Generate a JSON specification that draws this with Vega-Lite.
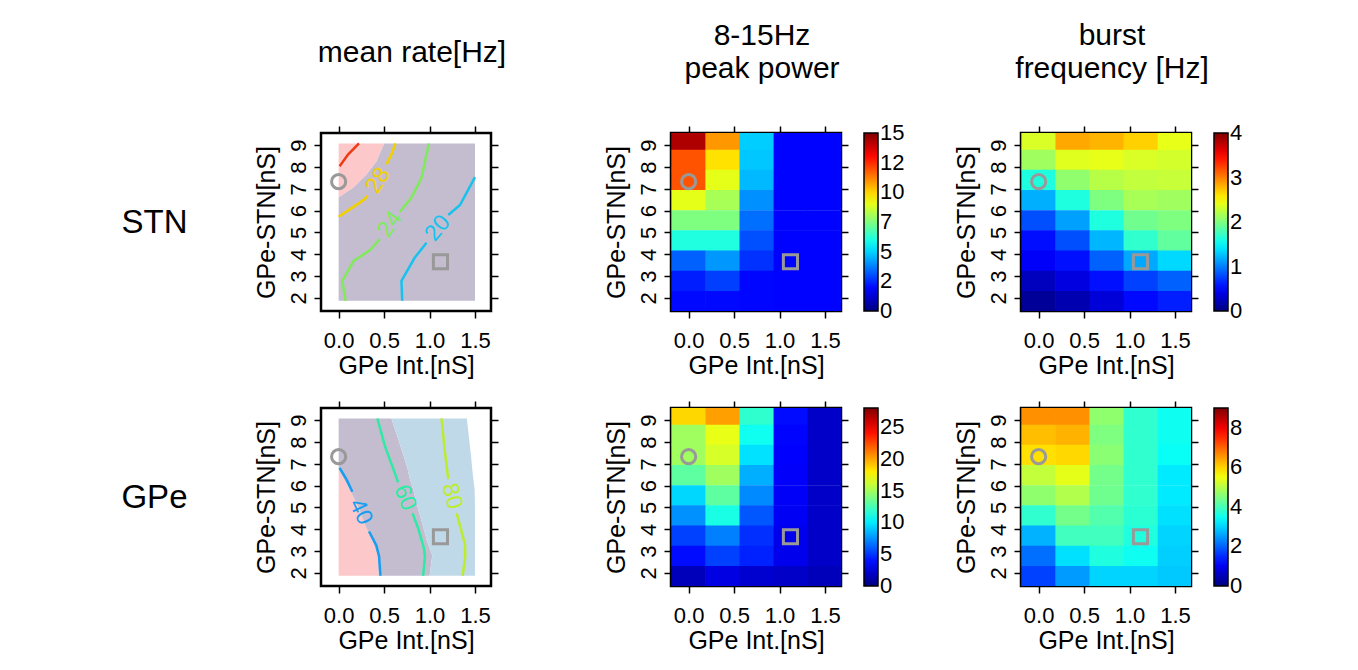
{
"$schema": "https://vega.github.io/schema/vega-lite/v6.json",
"padding": {"left": 119, "top": 20, "right": 5, "bottom": 5},
"background": "white",
"config": {
  "font": "Liberation Sans",
  "view": {"stroke": "black", "strokeWidth": 2.5},
  "axis": {"grid": false, "domain": false, "tickColor": "black", "tickSize": 7, "tickWidth": 1.5, "labelFontSize": 22, "labelColor": "black", "titleFontSize": 25, "titleFontWeight": "normal", "titleColor": "black", "labelFont": "Liberation Sans", "titleFont": "Liberation Sans"},
  "axisX": {"labelPadding": 12, "titlePadding": 2},
  "axisY": {"labelAngle": -90, "labelAlign": "center", "labelBaseline": "alphabetic", "labelPadding": 9, "titlePadding": 8},
  "title": {"fontSize": 30, "fontWeight": "normal", "color": "black", "font": "Liberation Sans", "lineHeight": 33},
  "legend": {"gradientLength": 178, "gradientThickness": 14, "gradientStrokeColor": "black", "gradientStrokeWidth": 1.5, "labelFontSize": 22, "labelColor": "black", "labelFont": "Liberation Sans", "labelOffset": 8, "offset": 15, "padding": 0, "labelOverlap": false, "labelBaseline": "middle", "direction": "vertical"}
},
"datasets": {
  "markers": [{"m": "circle", "x": 0, "y": 7.33}, {"m": "square", "x": 1.12, "y": 3.66}],
  "pp_stn": [
    {"x":0,"y":9.25,"v":14.3},{"x":0.375,"y":9.25,"v":10.9},{"x":0.75,"y":9.25,"v":4.9},{"x":1.125,"y":9.25,"v":1.9},{"x":1.5,"y":9.25,"v":1.9},
    {"x":0,"y":8.325,"v":11.9},{"x":0.375,"y":8.325,"v":9.8},{"x":0.75,"y":8.325,"v":4.8},{"x":1.125,"y":8.325,"v":1.9},{"x":1.5,"y":8.325,"v":1.9},
    {"x":0,"y":7.4,"v":11.9},{"x":0.375,"y":7.4,"v":9.0},{"x":0.75,"y":7.4,"v":4.6},{"x":1.125,"y":7.4,"v":1.9},{"x":1.5,"y":7.4,"v":1.9},
    {"x":0,"y":6.475,"v":9.0},{"x":0.375,"y":6.475,"v":8.1},{"x":0.75,"y":6.475,"v":4.0},{"x":1.125,"y":6.475,"v":1.9},{"x":1.5,"y":6.475,"v":1.9},
    {"x":0,"y":5.55,"v":7.5},{"x":0.375,"y":5.55,"v":7.5},{"x":0.75,"y":5.55,"v":3.5},{"x":1.125,"y":5.55,"v":1.9},{"x":1.5,"y":5.55,"v":1.9},
    {"x":0,"y":4.625,"v":6.1},{"x":0.375,"y":4.625,"v":6.1},{"x":0.75,"y":4.625,"v":3.05},{"x":1.125,"y":4.625,"v":1.9},{"x":1.5,"y":4.625,"v":1.9},
    {"x":0,"y":3.7,"v":3.3},{"x":0.375,"y":3.7,"v":4.1},{"x":0.75,"y":3.7,"v":2.6},{"x":1.125,"y":3.7,"v":1.9},{"x":1.5,"y":3.7,"v":1.9},
    {"x":0,"y":2.775,"v":2.3},{"x":0.375,"y":2.775,"v":2.8},{"x":0.75,"y":2.775,"v":1.95},{"x":1.125,"y":2.775,"v":1.9},{"x":1.5,"y":2.775,"v":1.9},
    {"x":0,"y":1.85,"v":2.0},{"x":0.375,"y":1.85,"v":2.0},{"x":0.75,"y":1.85,"v":1.95},{"x":1.125,"y":1.85,"v":1.9},{"x":1.5,"y":1.85,"v":1.9}
  ],
  "bf_stn": [
    {"x":0,"y":9.25,"v":2.35},{"x":0.375,"y":9.25,"v":2.84},{"x":0.75,"y":9.25,"v":2.79},{"x":1.125,"y":9.25,"v":2.68},{"x":1.5,"y":9.25,"v":2.41},
    {"x":0,"y":8.325,"v":2.13},{"x":0.375,"y":8.325,"v":2.38},{"x":0.75,"y":8.325,"v":2.41},{"x":1.125,"y":8.325,"v":2.35},{"x":1.5,"y":8.325,"v":2.33},
    {"x":0,"y":7.4,"v":1.62},{"x":0.375,"y":7.4,"v":2.07},{"x":0.75,"y":7.4,"v":2.22},{"x":1.125,"y":7.4,"v":2.26},{"x":1.5,"y":7.4,"v":2.28},
    {"x":0,"y":6.475,"v":1.19},{"x":0.375,"y":6.475,"v":1.62},{"x":0.75,"y":6.475,"v":2.0},{"x":1.125,"y":6.475,"v":2.16},{"x":1.5,"y":6.475,"v":2.13},
    {"x":0,"y":5.55,"v":0.81},{"x":0.375,"y":5.55,"v":1.13},{"x":0.75,"y":5.55,"v":1.62},{"x":1.125,"y":5.55,"v":1.94},{"x":1.5,"y":5.55,"v":2.0},
    {"x":0,"y":4.625,"v":0.55},{"x":0.375,"y":4.625,"v":0.81},{"x":0.75,"y":4.625,"v":1.22},{"x":1.125,"y":4.625,"v":1.69},{"x":1.5,"y":4.625,"v":1.88},
    {"x":0,"y":3.7,"v":0.48},{"x":0.375,"y":3.7,"v":0.56},{"x":0.75,"y":3.7,"v":0.88},{"x":1.125,"y":3.7,"v":1.16},{"x":1.5,"y":3.7,"v":1.35},
    {"x":0,"y":2.775,"v":0.25},{"x":0.375,"y":2.775,"v":0.38},{"x":0.75,"y":2.775,"v":0.56},{"x":1.125,"y":2.775,"v":0.75},{"x":1.5,"y":2.775,"v":0.88},
    {"x":0,"y":1.85,"v":0.1},{"x":0.375,"y":1.85,"v":0.19},{"x":0.75,"y":1.85,"v":0.35},{"x":1.125,"y":1.85,"v":0.53},{"x":1.5,"y":1.85,"v":0.62}
  ],
  "pp_gpe": [
    {"x":0,"y":9.25,"v":18.6},{"x":0.375,"y":9.25,"v":20.1},{"x":0.75,"y":9.25,"v":11.8},{"x":1.125,"y":9.25,"v":3.8},{"x":1.5,"y":9.25,"v":2.0},
    {"x":0,"y":8.325,"v":14.9},{"x":0.375,"y":8.325,"v":16.9},{"x":0.75,"y":8.325,"v":10.9},{"x":1.125,"y":8.325,"v":3.6},{"x":1.5,"y":8.325,"v":2.0},
    {"x":0,"y":7.4,"v":14.9},{"x":0.375,"y":7.4,"v":16.4},{"x":0.75,"y":7.4,"v":9.7},{"x":1.125,"y":7.4,"v":3.5},{"x":1.5,"y":7.4,"v":2.0},
    {"x":0,"y":6.475,"v":13.1},{"x":0.375,"y":6.475,"v":14.9},{"x":0.75,"y":6.475,"v":8.3},{"x":1.125,"y":6.475,"v":3.4},{"x":1.5,"y":6.475,"v":2.0},
    {"x":0,"y":5.55,"v":9.4},{"x":0.375,"y":5.55,"v":13.1},{"x":0.75,"y":5.55,"v":7.3},{"x":1.125,"y":5.55,"v":3.3},{"x":1.5,"y":5.55,"v":2.0},
    {"x":0,"y":4.625,"v":7.5},{"x":0.375,"y":4.625,"v":11.2},{"x":0.75,"y":4.625,"v":5.9},{"x":1.125,"y":4.625,"v":3.2},{"x":1.5,"y":4.625,"v":2.0},
    {"x":0,"y":3.7,"v":5.25},{"x":0.375,"y":3.7,"v":7.0},{"x":0.75,"y":3.7,"v":4.8},{"x":1.125,"y":3.7,"v":3.0},{"x":1.5,"y":3.7,"v":2.0},
    {"x":0,"y":2.775,"v":3.8},{"x":0.375,"y":2.775,"v":5.25},{"x":0.75,"y":2.775,"v":4.4},{"x":1.125,"y":2.775,"v":3.0},{"x":1.5,"y":2.775,"v":2.0},
    {"x":0,"y":1.85,"v":1.6},{"x":0.375,"y":1.85,"v":2.7},{"x":0.75,"y":1.85,"v":2.2},{"x":1.125,"y":1.85,"v":2.0},{"x":1.5,"y":1.85,"v":1.6}
  ],
  "bf_gpe": [
    {"x":0,"y":9.25,"v":6.6},{"x":0.375,"y":9.25,"v":6.6},{"x":0.75,"y":9.25,"v":4.65},{"x":1.125,"y":9.25,"v":3.8},{"x":1.5,"y":9.25,"v":3.5},
    {"x":0,"y":8.325,"v":6.2},{"x":0.375,"y":8.325,"v":6.3},{"x":0.75,"y":8.325,"v":4.5},{"x":1.125,"y":8.325,"v":3.8},{"x":1.5,"y":8.325,"v":3.5},
    {"x":0,"y":7.4,"v":5.9},{"x":0.375,"y":7.4,"v":5.97},{"x":0.75,"y":7.4,"v":4.6},{"x":1.125,"y":7.4,"v":3.8},{"x":1.5,"y":7.4,"v":3.45},
    {"x":0,"y":6.475,"v":5.1},{"x":0.375,"y":6.475,"v":5.4},{"x":0.75,"y":6.475,"v":4.4},{"x":1.125,"y":6.475,"v":3.8},{"x":1.5,"y":6.475,"v":3.2},
    {"x":0,"y":5.55,"v":4.65},{"x":0.375,"y":5.55,"v":4.95},{"x":0.75,"y":5.55,"v":4.36},{"x":1.125,"y":5.55,"v":3.8},{"x":1.5,"y":5.55,"v":3.2},
    {"x":0,"y":4.625,"v":3.8},{"x":0.375,"y":4.625,"v":4.4},{"x":0.75,"y":4.625,"v":4.1},{"x":1.125,"y":4.625,"v":3.75},{"x":1.5,"y":4.625,"v":3.1},
    {"x":0,"y":3.7,"v":2.7},{"x":0.375,"y":3.7,"v":3.95},{"x":0.75,"y":3.7,"v":3.95},{"x":1.125,"y":3.7,"v":3.65},{"x":1.5,"y":3.7,"v":3.0},
    {"x":0,"y":2.775,"v":2.1},{"x":0.375,"y":2.775,"v":3.1},{"x":0.75,"y":2.775,"v":3.65},{"x":1.125,"y":2.775,"v":3.5},{"x":1.5,"y":2.775,"v":2.95},
    {"x":0,"y":1.85,"v":1.7},{"x":0.375,"y":1.85,"v":2.5},{"x":0.75,"y":1.85,"v":3.0},{"x":1.125,"y":1.85,"v":3.0},{"x":1.5,"y":1.85,"v":2.9}
  ],
  "fill_stn": [
    {"region":"gray","y":1.87,"x":0,"x2":1.5},{"region":"gray","y":6.62,"x":0,"x2":1.5},{"region":"gray","y":7.05,"x":0.158,"x2":1.5},{"region":"gray","y":7.66,"x":0.305,"x2":1.5},{"region":"gray","y":8.27,"x":0.415,"x2":1.5},{"region":"gray","y":9.08,"x":0.5,"x2":1.5},
    {"region":"pink","y":6.62,"x":0,"x2":0},{"region":"pink","y":7.05,"x":0,"x2":0.158},{"region":"pink","y":7.66,"x":0,"x2":0.305},{"region":"pink","y":8.27,"x":0,"x2":0.415},{"region":"pink","y":9.08,"x":0,"x2":0.5}
  ],
  "fill_gpe": [
    {"region":"pink","y":1.87,"x":0,"x2":0.44},{"region":"pink","y":2.8,"x":0,"x2":0.43},{"region":"pink","y":3.5,"x":0,"x2":0.37},{"region":"pink","y":4.1,"x":0,"x2":0.3},{"region":"pink","y":5.0,"x":0,"x2":0.22},{"region":"pink","y":5.85,"x":0,"x2":0.12},{"region":"pink","y":6.35,"x":0,"x2":0.05},{"region":"pink","y":6.75,"x":0,"x2":0},
    {"region":"gray","y":1.87,"x":0.44,"x2":1.0},{"region":"gray","y":2.8,"x":0.43,"x2":1.03},{"region":"gray","y":3.5,"x":0.37,"x2":0.97},{"region":"gray","y":4.1,"x":0.3,"x2":0.93},{"region":"gray","y":5.0,"x":0.22,"x2":0.87},{"region":"gray","y":5.85,"x":0.12,"x2":0.82},{"region":"gray","y":6.35,"x":0.05,"x2":0.78},{"region":"gray","y":6.75,"x":0,"x2":0.76},{"region":"gray","y":7.3,"x":0,"x2":0.72},{"region":"gray","y":8.2,"x":0,"x2":0.65},{"region":"gray","y":9.08,"x":0,"x2":0.58},
    {"region":"blue","y":1.87,"x":1.0,"x2":1.5},{"region":"blue","y":2.8,"x":1.03,"x2":1.5},{"region":"blue","y":3.5,"x":0.97,"x2":1.5},{"region":"blue","y":4.1,"x":0.93,"x2":1.5},{"region":"blue","y":5.0,"x":0.87,"x2":1.5},{"region":"blue","y":5.85,"x":0.82,"x2":1.496},{"region":"blue","y":6.35,"x":0.78,"x2":1.48},{"region":"blue","y":6.75,"x":0.76,"x2":1.47},{"region":"blue","y":7.3,"x":0.72,"x2":1.458},{"region":"blue","y":8.2,"x":0.65,"x2":1.434},{"region":"blue","y":9.08,"x":0.58,"x2":1.41}
  ],
  "lines_stn": [
    {"lev":"32","seg":"32","i":1,"x":0.011,"y":8.04},{"lev":"32","seg":"32","i":2,"x":0.103,"y":8.57},{"lev":"32","seg":"32","i":3,"x":0.224,"y":9.08},
    {"lev":"28","seg":"28a","i":1,"x":0,"y":5.72},{"lev":"28","seg":"28a","i":2,"x":0.121,"y":6.06},{"lev":"28","seg":"28a","i":3,"x":0.268,"y":6.47},{"lev":"28","seg":"28a","i":4,"x":0.32,"y":6.67},
    {"lev":"28","seg":"28b","i":1,"x":0.526,"y":8.12},{"lev":"28","seg":"28b","i":2,"x":0.58,"y":8.57},{"lev":"28","seg":"28b","i":3,"x":0.625,"y":9.08},
    {"lev":"24","seg":"24a","i":1,"x":0.077,"y":1.87},{"lev":"24","seg":"24a","i":2,"x":0.04,"y":2.78},{"lev":"24","seg":"24a","i":3,"x":0.165,"y":3.7},{"lev":"24","seg":"24a","i":4,"x":0.342,"y":4.18},{"lev":"24","seg":"24a","i":5,"x":0.452,"y":4.69},
    {"lev":"24","seg":"24b","i":1,"x":0.673,"y":5.95},{"lev":"24","seg":"24b","i":2,"x":0.8,"y":6.59},{"lev":"24","seg":"24b","i":3,"x":0.912,"y":7.51},{"lev":"24","seg":"24b","i":4,"x":0.993,"y":9.08},
    {"lev":"20","seg":"20a","i":1,"x":0.699,"y":1.87},{"lev":"20","seg":"20a","i":2,"x":0.691,"y":2.78},{"lev":"20","seg":"20a","i":3,"x":0.838,"y":3.85},{"lev":"20","seg":"20a","i":4,"x":0.967,"y":4.53},
    {"lev":"20","seg":"20b","i":1,"x":1.206,"y":5.8},{"lev":"20","seg":"20b","i":2,"x":1.335,"y":6.26},{"lev":"20","seg":"20b","i":3,"x":1.5,"y":7.54}
  ],
  "lines_gpe": [
    {"lev":"40","seg":"40a","i":1,"x":0.011,"y":6.81},{"lev":"40","seg":"40a","i":2,"x":0.085,"y":6.3},{"lev":"40","seg":"40a","i":3,"x":0.151,"y":5.72},
    {"lev":"40","seg":"40b","i":1,"x":0.335,"y":3.9},{"lev":"40","seg":"40b","i":2,"x":0.415,"y":3.26},{"lev":"40","seg":"40b","i":3,"x":0.445,"y":2.76},{"lev":"40","seg":"40b","i":4,"x":0.46,"y":1.87},
    {"lev":"60","seg":"60a","i":1,"x":0.426,"y":9.08},{"lev":"60","seg":"60a","i":2,"x":0.507,"y":7.85},{"lev":"60","seg":"60a","i":3,"x":0.6,"y":6.78},{"lev":"60","seg":"60a","i":4,"x":0.654,"y":6.15},
    {"lev":"60","seg":"60b","i":1,"x":0.8125,"y":4.74},{"lev":"60","seg":"60b","i":2,"x":0.875,"y":4.05},{"lev":"60","seg":"60b","i":3,"x":0.9375,"y":3.14},{"lev":"60","seg":"60b","i":4,"x":0.949,"y":2.76},{"lev":"60","seg":"60b","i":5,"x":0.93,"y":1.87},
    {"lev":"80","seg":"80a","i":1,"x":1.132,"y":9.08},{"lev":"80","seg":"80a","i":2,"x":1.169,"y":7.54},{"lev":"80","seg":"80a","i":3,"x":1.206,"y":6.3},
    {"lev":"80","seg":"80b","i":1,"x":1.298,"y":4.74},{"lev":"80","seg":"80b","i":2,"x":1.342,"y":4.05},{"lev":"80","seg":"80b","i":3,"x":1.39,"y":3.29},{"lev":"80","seg":"80b","i":4,"x":1.393,"y":2.76},{"lev":"80","seg":"80b","i":5,"x":1.364,"y":1.87}
  ]
},
"columns": 3,
"bounds": "flush",
"spacing": {"row": 97, "column": 180},
"resolve": {"scale": {"color": "independent", "x": "independent", "y": "independent", "shape": "independent"}, "legend": {"color": "independent"}, "axis": {"x": "independent", "y": "independent"}},
"concat": [
   {
    "width": 170, "height": 178,
    "title": {"text": "mean rate[Hz]", "frame": "group", "anchor": "middle", "offset": 11, "dx": 6, "dy": -16, "baseline": "bottom"},
    "layer": [
     {"data": {"name": "fill_stn"}, "mark": {"type": "area", "orient": "horizontal"},
      "encoding": {
       "y": {"field": "y", "type": "quantitative", "scale": {"domain": [1.4, 9.56], "nice": false, "zero": false}, "axis": {"values": [2,3,4,5,6,7,8,9], "title": "GPe-STN[nS]"}},
       "x": {"field": "x", "type": "quantitative", "scale": {"domain": [-0.194, 1.676], "nice": false, "zero": false}, "axis": {"values": [0,0.5,1,1.5], "format": ".1f", "title": "GPe Int.[nS]"}},
       "x2": {"field": "x2"},
       "color": {"field": "region", "type": "nominal", "scale": {"domain": ["gray","pink","blue"], "range": ["#c4bdcf","#fcc8c9","#c0d9e8"]}, "legend": null}}},
     {"data": {"name": "lines_stn"}, "mark": {"type": "line", "strokeWidth": 2.5},
      "encoding": {
       "x": {"field": "x", "type": "quantitative", "scale": {"domain": [-0.194, 1.676], "nice": false, "zero": false}, "axis": null},
       "y": {"field": "y", "type": "quantitative", "scale": {"domain": [1.4, 9.56], "nice": false, "zero": false}, "axis": {"orient": "left", "values": [], "ticks": false, "labels": false, "domain": false, "minExtent": 0, "maxExtent": 0, "title": "STN", "titleAngle": 0, "titleAlign": "right", "titleBaseline": "middle", "titleFontSize": 33, "titlePadding": 134}},
       "color": {"field": "lev", "type": "nominal", "scale": {"domain": ["20","24","28","32"], "range": ["#17c3ee","#7fea5a","#f2d000","#ef3b15"]}, "legend": null},
       "detail": {"field": "seg"},
       "order": {"field": "i", "type": "quantitative"}}},
     {"data": {"values": [{"t": "28", "x": 0.434, "y": 7.38}]}, "mark": {"type": "text", "angle": -58, "fontSize": 23, "color": "#f2d000"},
      "encoding": {"x": {"field": "x", "type": "quantitative", "axis": null}, "y": {"field": "y", "type": "quantitative", "axis": null}, "text": {"field": "t"}}},
     {"data": {"values": [{"t": "24", "x": 0.5625, "y": 5.38}]}, "mark": {"type": "text", "angle": -55, "fontSize": 23, "color": "#7fea5a"},
      "encoding": {"x": {"field": "x", "type": "quantitative", "axis": null}, "y": {"field": "y", "type": "quantitative", "axis": null}, "text": {"field": "t"}}},
     {"data": {"values": [{"t": "20", "x": 1.09, "y": 5.2}]}, "mark": {"type": "text", "angle": -50, "fontSize": 23, "color": "#17c3ee"},
      "encoding": {"x": {"field": "x", "type": "quantitative", "axis": null}, "y": {"field": "y", "type": "quantitative", "axis": null}, "text": {"field": "t"}}},
     {"data": {"name": "markers"}, "mark": {"type": "point", "filled": false, "stroke": "#999999", "strokeWidth": 3, "size": 200, "opacity": 1},
      "encoding": {
       "x": {"field": "x", "type": "quantitative", "scale": {"domain": [-0.194, 1.676], "nice": false, "zero": false}, "axis": {"orient": "top", "values": [0,0.5,1,1.5], "labels": false, "title": null}},
       "y": {"field": "y", "type": "quantitative", "scale": {"domain": [1.4, 9.56], "nice": false, "zero": false}, "axis": {"orient": "right", "values": [2,3,4,5,6,7,8,9], "labels": false, "title": null}},
       "shape": {"field": "m", "type": "nominal", "scale": {"domain": ["circle","square"], "range": ["circle","square"]}, "legend": null}}}
    ],
    "resolve": {"scale": {"color": "independent"}, "axis": {"x": "independent", "y": "independent"}}
   },
   {
    "width": 170, "height": 178,
    "title": {"text": ["8-15Hz", "peak power"], "frame": "group", "anchor": "middle", "offset": 11, "dx": 6, "baseline": "bottom"},
    "layer": [
     {"data": {"name": "pp_stn"}, "mark": {"type": "rect", "width": 34.6, "height": 20.6, "clip": true},
      "encoding": {
       "x": {"field": "x", "type": "quantitative", "scale": {"domain": [-0.194, 1.676], "nice": false, "zero": false}, "axis": {"values": [0,0.5,1,1.5], "format": ".1f", "title": "GPe Int.[nS]"}},
       "y": {"field": "y", "type": "quantitative", "scale": {"domain": [1.4, 9.56], "nice": false, "zero": false}, "axis": {"values": [2,3,4,5,6,7,8,9], "title": "GPe-STN[nS]"}},
       "color": {"field": "v", "type": "quantitative", "scale": {"type": "linear", "interpolate": "rgb", "domain": [0,1.875,3.75,5.625,7.5,9.375,11.25,13.125,15], "range": ["#00007F","#0000FF","#007FFF","#00FFFF","#7FFF7F","#FFFF00","#FF7F00","#FF0000","#7F0000"]},
        "legend": {"title": null, "values": [0,2.5,5,7.5,10,12.5,15], "labelExpr": "'' + floor(datum.value)", "encode": {"labels": {"update": {"baseline": {"value": "middle"}}}}}}}},
     {"data": {"name": "markers"}, "mark": {"type": "point", "filled": false, "stroke": "#999999", "strokeWidth": 3, "size": 200, "opacity": 1},
      "encoding": {
       "x": {"field": "x", "type": "quantitative", "scale": {"domain": [-0.194, 1.676], "nice": false, "zero": false}, "axis": {"orient": "top", "values": [0,0.5,1,1.5], "labels": false, "title": null}},
       "y": {"field": "y", "type": "quantitative", "scale": {"domain": [1.4, 9.56], "nice": false, "zero": false}, "axis": {"orient": "right", "values": [2,3,4,5,6,7,8,9], "labels": false, "title": null}},
       "shape": {"field": "m", "type": "nominal", "scale": {"domain": ["circle","square"], "range": ["circle","square"]}, "legend": null}}}
    ],
    "resolve": {"axis": {"x": "independent", "y": "independent"}}
   },
   {
    "width": 170, "height": 178,
    "title": {"text": ["burst", "frequency [Hz]"], "frame": "group", "anchor": "middle", "offset": 11, "dx": 6, "baseline": "bottom"},
    "layer": [
     {"data": {"name": "bf_stn"}, "mark": {"type": "rect", "width": 34.6, "height": 20.6, "clip": true},
      "encoding": {
       "x": {"field": "x", "type": "quantitative", "scale": {"domain": [-0.194, 1.676], "nice": false, "zero": false}, "axis": {"values": [0,0.5,1,1.5], "format": ".1f", "title": "GPe Int.[nS]"}},
       "y": {"field": "y", "type": "quantitative", "scale": {"domain": [1.4, 9.56], "nice": false, "zero": false}, "axis": {"values": [2,3,4,5,6,7,8,9], "title": "GPe-STN[nS]"}},
       "color": {"field": "v", "type": "quantitative", "scale": {"type": "linear", "interpolate": "rgb", "domain": [0,0.5,1,1.5,2,2.5,3,3.5,4], "range": ["#00007F","#0000FF","#007FFF","#00FFFF","#7FFF7F","#FFFF00","#FF7F00","#FF0000","#7F0000"]},
        "legend": {"title": null, "values": [0,1,2,3,4], "encode": {"labels": {"update": {"baseline": {"value": "middle"}}}}}}}},
     {"data": {"name": "markers"}, "mark": {"type": "point", "filled": false, "stroke": "#999999", "strokeWidth": 3, "size": 200, "opacity": 1},
      "encoding": {
       "x": {"field": "x", "type": "quantitative", "scale": {"domain": [-0.194, 1.676], "nice": false, "zero": false}, "axis": {"orient": "top", "values": [0,0.5,1,1.5], "labels": false, "title": null}},
       "y": {"field": "y", "type": "quantitative", "scale": {"domain": [1.4, 9.56], "nice": false, "zero": false}, "axis": {"orient": "right", "values": [2,3,4,5,6,7,8,9], "labels": false, "title": null}},
       "shape": {"field": "m", "type": "nominal", "scale": {"domain": ["circle","square"], "range": ["circle","square"]}, "legend": null}}}
    ],
    "resolve": {"axis": {"x": "independent", "y": "independent"}}
   },
   {
    "width": 170, "height": 178,
    "layer": [
     {"data": {"name": "fill_gpe"}, "mark": {"type": "area", "orient": "horizontal"},
      "encoding": {
       "y": {"field": "y", "type": "quantitative", "scale": {"domain": [1.4, 9.56], "nice": false, "zero": false}, "axis": {"values": [2,3,4,5,6,7,8,9], "title": "GPe-STN[nS]"}},
       "x": {"field": "x", "type": "quantitative", "scale": {"domain": [-0.194, 1.676], "nice": false, "zero": false}, "axis": {"values": [0,0.5,1,1.5], "format": ".1f", "title": "GPe Int.[nS]"}},
       "x2": {"field": "x2"},
       "color": {"field": "region", "type": "nominal", "scale": {"domain": ["gray","pink","blue"], "range": ["#c4bdcf","#fcc8c9","#c0d9e8"]}, "legend": null}}},
     {"data": {"name": "lines_gpe"}, "mark": {"type": "line", "strokeWidth": 2.5},
      "encoding": {
       "x": {"field": "x", "type": "quantitative", "scale": {"domain": [-0.194, 1.676], "nice": false, "zero": false}, "axis": null},
       "y": {"field": "y", "type": "quantitative", "scale": {"domain": [1.4, 9.56], "nice": false, "zero": false}, "axis": {"orient": "left", "values": [], "ticks": false, "labels": false, "domain": false, "minExtent": 0, "maxExtent": 0, "title": "GPe", "titleAngle": 0, "titleAlign": "right", "titleBaseline": "middle", "titleFontSize": 33, "titlePadding": 134}},
       "color": {"field": "lev", "type": "nominal", "scale": {"domain": ["40","60","80"], "range": ["#179ef0","#2deaa5","#bdec2c"]}, "legend": null},
       "detail": {"field": "seg"},
       "order": {"field": "i", "type": "quantitative"}}},
     {"data": {"values": [{"t": "40", "x": 0.243, "y": 4.8}]}, "mark": {"type": "text", "angle": 65, "fontSize": 23, "color": "#179ef0"},
      "encoding": {"x": {"field": "x", "type": "quantitative", "axis": null}, "y": {"field": "y", "type": "quantitative", "axis": null}, "text": {"field": "t"}}},
     {"data": {"values": [{"t": "60", "x": 0.73, "y": 5.45}]}, "mark": {"type": "text", "angle": 68, "fontSize": 23, "color": "#2deaa5"},
      "encoding": {"x": {"field": "x", "type": "quantitative", "axis": null}, "y": {"field": "y", "type": "quantitative", "axis": null}, "text": {"field": "t"}}},
     {"data": {"values": [{"t": "80", "x": 1.25, "y": 5.52}]}, "mark": {"type": "text", "angle": 75, "fontSize": 23, "color": "#bdec2c"},
      "encoding": {"x": {"field": "x", "type": "quantitative", "axis": null}, "y": {"field": "y", "type": "quantitative", "axis": null}, "text": {"field": "t"}}},
     {"data": {"name": "markers"}, "mark": {"type": "point", "filled": false, "stroke": "#999999", "strokeWidth": 3, "size": 200, "opacity": 1},
      "encoding": {
       "x": {"field": "x", "type": "quantitative", "scale": {"domain": [-0.194, 1.676], "nice": false, "zero": false}, "axis": {"orient": "top", "values": [0,0.5,1,1.5], "labels": false, "title": null}},
       "y": {"field": "y", "type": "quantitative", "scale": {"domain": [1.4, 9.56], "nice": false, "zero": false}, "axis": {"orient": "right", "values": [2,3,4,5,6,7,8,9], "labels": false, "title": null}},
       "shape": {"field": "m", "type": "nominal", "scale": {"domain": ["circle","square"], "range": ["circle","square"]}, "legend": null}}}
    ],
    "resolve": {"scale": {"color": "independent"}, "axis": {"x": "independent", "y": "independent"}}
   },
   {
    "width": 170, "height": 178,
    "layer": [
     {"data": {"name": "pp_gpe"}, "mark": {"type": "rect", "width": 34.6, "height": 20.6, "clip": true},
      "encoding": {
       "x": {"field": "x", "type": "quantitative", "scale": {"domain": [-0.194, 1.676], "nice": false, "zero": false}, "axis": {"values": [0,0.5,1,1.5], "format": ".1f", "title": "GPe Int.[nS]"}},
       "y": {"field": "y", "type": "quantitative", "scale": {"domain": [1.4, 9.56], "nice": false, "zero": false}, "axis": {"values": [2,3,4,5,6,7,8,9], "title": "GPe-STN[nS]"}},
       "color": {"field": "v", "type": "quantitative", "scale": {"type": "linear", "interpolate": "rgb", "domain": [0,3.5,7,10.5,14,17.5,21,24.5,28], "range": ["#00007F","#0000FF","#007FFF","#00FFFF","#7FFF7F","#FFFF00","#FF7F00","#FF0000","#7F0000"]},
        "legend": {"title": null, "values": [0,5,10,15,20,25], "encode": {"labels": {"update": {"baseline": {"value": "middle"}}}}}}}},
     {"data": {"name": "markers"}, "mark": {"type": "point", "filled": false, "stroke": "#999999", "strokeWidth": 3, "size": 200, "opacity": 1},
      "encoding": {
       "x": {"field": "x", "type": "quantitative", "scale": {"domain": [-0.194, 1.676], "nice": false, "zero": false}, "axis": {"orient": "top", "values": [0,0.5,1,1.5], "labels": false, "title": null}},
       "y": {"field": "y", "type": "quantitative", "scale": {"domain": [1.4, 9.56], "nice": false, "zero": false}, "axis": {"orient": "right", "values": [2,3,4,5,6,7,8,9], "labels": false, "title": null}},
       "shape": {"field": "m", "type": "nominal", "scale": {"domain": ["circle","square"], "range": ["circle","square"]}, "legend": null}}}
    ],
    "resolve": {"axis": {"x": "independent", "y": "independent"}}
   },
   {
    "width": 170, "height": 178,
    "layer": [
     {"data": {"name": "bf_gpe"}, "mark": {"type": "rect", "width": 34.6, "height": 20.6, "clip": true},
      "encoding": {
       "x": {"field": "x", "type": "quantitative", "scale": {"domain": [-0.194, 1.676], "nice": false, "zero": false}, "axis": {"values": [0,0.5,1,1.5], "format": ".1f", "title": "GPe Int.[nS]"}},
       "y": {"field": "y", "type": "quantitative", "scale": {"domain": [1.4, 9.56], "nice": false, "zero": false}, "axis": {"values": [2,3,4,5,6,7,8,9], "title": "GPe-STN[nS]"}},
       "color": {"field": "v", "type": "quantitative", "scale": {"type": "linear", "interpolate": "rgb", "domain": [0,1.125,2.25,3.375,4.5,5.625,6.75,7.875,9], "range": ["#00007F","#0000FF","#007FFF","#00FFFF","#7FFF7F","#FFFF00","#FF7F00","#FF0000","#7F0000"]},
        "legend": {"title": null, "values": [0,2,4,6,8], "encode": {"labels": {"update": {"baseline": {"value": "middle"}}}}}}}},
     {"data": {"name": "markers"}, "mark": {"type": "point", "filled": false, "stroke": "#999999", "strokeWidth": 3, "size": 200, "opacity": 1},
      "encoding": {
       "x": {"field": "x", "type": "quantitative", "scale": {"domain": [-0.194, 1.676], "nice": false, "zero": false}, "axis": {"orient": "top", "values": [0,0.5,1,1.5], "labels": false, "title": null}},
       "y": {"field": "y", "type": "quantitative", "scale": {"domain": [1.4, 9.56], "nice": false, "zero": false}, "axis": {"orient": "right", "values": [2,3,4,5,6,7,8,9], "labels": false, "title": null}},
       "shape": {"field": "m", "type": "nominal", "scale": {"domain": ["circle","square"], "range": ["circle","square"]}, "legend": null}}}
    ],
    "resolve": {"axis": {"x": "independent", "y": "independent"}}
   }
]
}
